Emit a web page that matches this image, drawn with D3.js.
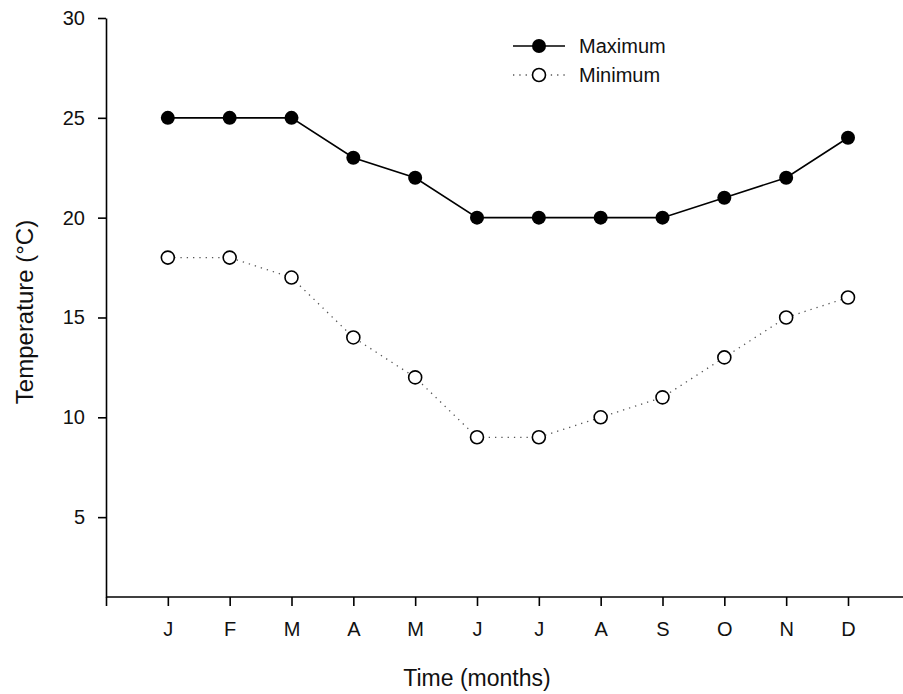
<!DOCTYPE html>
<html>
<head>
<meta charset="utf-8">
<script src="https://cdn.jsdelivr.net/npm/d3@7"></script>
<style>
  body { margin: 0; background: #fff; }
  svg { display: block; font-family: "Liberation Sans", Arial, sans-serif; }
</style>
</head>
<body>
<div id="chart"></div>
<script>
const months = ['J', 'F', 'M', 'A', 'M', 'J', 'J', 'A', 'S', 'O', 'N', 'D']
const maxTemp = [25, 25, 25, 23, 22, 20, 20, 20, 20, 21, 22, 24]
const minTemp = [18, 18, 17, 14, 12, 9, 9, 10, 11, 13, 15, 16]
const yTicks = [5, 10, 15, 20, 25, 30]

const width = 903
const height = 694

const svg = d3.select('#chart')
  .append('svg')
  .attr('width', width)
  .attr('height', height)

// x: month index, 0 is the axis origin, months sit at 1..12
const x = d3.scaleLinear()
  .domain([0, 12])
  .range([106, 848])

const y = d3.scaleLinear()
  .domain([1, 30])
  .range([597, 18])

// X axis
const xAxis = svg.append('g')
  .attr('transform', `translate(0, ${y(1)})`)
  .call(d3.axisBottom(x)
    .tickValues(d3.range(0, 13))
    .tickFormat(i => i === 0 ? '' : months[i - 1])
    .tickSize(9)
    .tickPadding(16)
    .tickSizeOuter(0))

xAxis.select('.domain').attr('d', `M${x(0)},0H${width}`)

// Y axis
svg.append('g')
  .attr('transform', `translate(${x(0)}, 0)`)
  .call(d3.axisLeft(y)
    .tickValues(yTicks)
    .tickSize(8)
    .tickPadding(13)
    .tickSizeOuter(0))

svg.selectAll('.domain').attr('stroke', '#000').attr('stroke-width', 1.6)
svg.selectAll('.tick line').attr('stroke', '#000').attr('stroke-width', 1.6)
svg.selectAll('.tick text')
  .attr('fill', '#111')
  .style('font-size', '20px')
  .style('font-family', '"Liberation Sans", Arial, sans-serif')

// Axis titles
svg.append('text')
  .attr('x', (x(0) + x(12)) / 2)
  .attr('y', 686)
  .attr('text-anchor', 'middle')
  .attr('fill', '#111')
  .style('font-size', '23px')
  .text('Time (months)')

svg.append('text')
  .attr('transform', `translate(33, 312) rotate(-90)`)
  .attr('text-anchor', 'middle')
  .attr('fill', '#111')
  .style('font-size', '24px')
  .text('Temperature (°C)')

// Lines
const line = d3.line()
  .x((d, i) => x(i + 1))
  .y(d => y(d))

svg.append('path')
  .datum(minTemp)
  .attr('d', line)
  .attr('fill', 'none')
  .attr('stroke', '#555')
  .attr('stroke-width', 1.3)
  .attr('stroke-dasharray', '1.3,5')

svg.append('path')
  .datum(maxTemp)
  .attr('d', line)
  .attr('fill', 'none')
  .attr('stroke', '#000')
  .attr('stroke-width', 1.6)

// Points
svg.append('g')
  .selectAll('circle')
  .data(minTemp)
  .join('circle')
  .attr('cx', (d, i) => x(i + 1))
  .attr('cy', d => y(d))
  .attr('r', 6.5)
  .attr('fill', '#fff')
  .attr('stroke', '#000')
  .attr('stroke-width', 1.6)

svg.append('g')
  .selectAll('circle')
  .data(maxTemp)
  .join('circle')
  .attr('cx', (d, i) => x(i + 1))
  .attr('cy', d => y(d))
  .attr('r', 7)
  .attr('fill', '#000')

// Legend
const legend = svg.append('g')
  .attr('transform', 'translate(513, 46)')

legend.append('line')
  .attr('x1', 0).attr('x2', 52)
  .attr('y1', 0).attr('y2', 0)
  .attr('stroke', '#000')
  .attr('stroke-width', 1.6)
legend.append('circle')
  .attr('cx', 26).attr('cy', 0).attr('r', 7)
  .attr('fill', '#000')
legend.append('text')
  .attr('x', 66).attr('y', 0)
  .attr('dy', '0.35em')
  .attr('fill', '#111')
  .style('font-size', '20px')
  .text('Maximum')

legend.append('line')
  .attr('x1', 0).attr('x2', 52)
  .attr('y1', 29).attr('y2', 29)
  .attr('stroke', '#555')
  .attr('stroke-width', 1.3)
  .attr('stroke-dasharray', '1.3,5')
legend.append('circle')
  .attr('cx', 26).attr('cy', 29).attr('r', 6.5)
  .attr('fill', '#fff')
  .attr('stroke', '#000')
  .attr('stroke-width', 1.6)
legend.append('text')
  .attr('x', 66).attr('y', 29)
  .attr('dy', '0.35em')
  .attr('fill', '#111')
  .style('font-size', '20px')
  .text('Minimum')
</script>
</body>
</html>
